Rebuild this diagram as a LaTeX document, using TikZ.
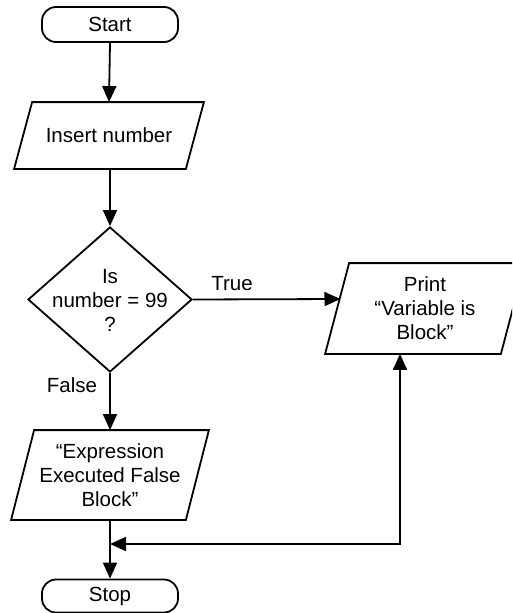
\documentclass[tikz,border=0pt]{standalone}
\usepackage{fontspec}
\setmainfont{Liberation Sans}
\usetikzlibrary{shapes.geometric,arrows.meta}
\newcommand\drawpara[2]{\draw ([xshift=#2]#1.north west) -- ([xshift=#2]#1.north east) -- ([xshift=-#2]#1.south east) -- ([xshift=-#2]#1.south west) -- cycle;}
\begin{document}
\begin{tikzpicture}[x=1pt,y=-1pt,
  line width=1.8pt,
  font=\fontsize{20.5}{24}\selectfont,
  term/.style={draw, rectangle, rounded corners=14pt, minimum width=136pt, minimum height=35pt, inner sep=0pt},
  iobox/.style={rectangle, align=center, inner sep=0pt},
  decision/.style={draw, diamond, minimum width=164pt, minimum height=145pt, inner sep=0pt},
  arr/.style={-{Triangle[length=16pt,width=14pt]}},
  darr/.style={{Triangle[length=16pt,width=14pt]}-{Triangle[length=16pt,width=14pt]}},
  lbl/.style={inner sep=0pt}
]
\useasboundingbox (0,0) rectangle (512,613);
\clip (0,0) rectangle (512,613);

\node[term] (start) at (110,24.5) {Start};
\node[iobox, minimum width=170pt, minimum height=65pt] (insert) at (109,135.5) {Insert number};
\drawpara{insert}{9pt}
\node[decision] (dec) at (110,299.5) {};
\node[iobox] (dectext) at (110,300) {Is\\number = 99\\?};
\node[iobox, minimum width=174pt, minimum height=89pt] (print) at (425,308.5) {Print\\“Variable is\\Block”};
\drawpara{print}{12pt}
\node[iobox, minimum width=173pt, minimum height=88pt] (expr) at (110,475) {“Expression\\Executed False\\Block”};
\drawpara{expr}{11.5pt}
\node[term, minimum height=33pt] (stop) at (110,596) {Stop};

\node[lbl] (truelbl) at (232,284) {True};
\node[lbl] (falselbl) at (72,385) {False};

\coordinate (pin) at (340.5,299);
\coordinate (junction) at (110,544);

\draw[arr] (start.south) -- (insert.south |- insert.north);
\draw[arr] (insert.south -| dec.north) -- (dec.north);
\draw[arr] (dec.east) -- (pin);
\draw[arr] (dec.south) -- (expr.north);
\draw[arr] (expr.south) -- (stop.north);
\draw[darr] (junction) -| ([xshift=-25pt]print.south);
\end{tikzpicture}
\end{document}
